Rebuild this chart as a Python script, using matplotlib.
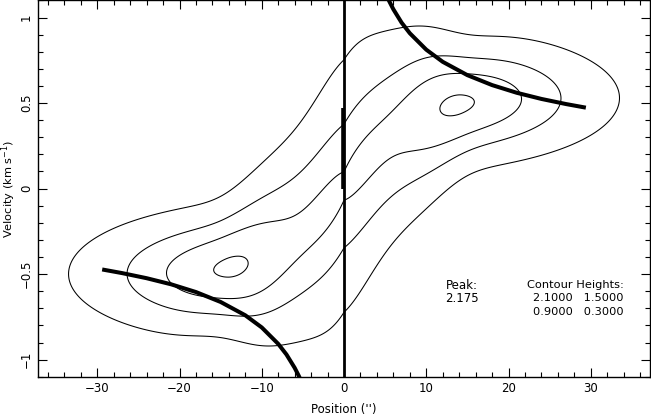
import numpy as np
import matplotlib.pyplot as plt

# contour levels and peak, as printed on the diagram
levels = [0.3, 0.9, 1.5, 2.1]
peak = 2.175

# ridge description (position in arcsec, velocity in km/s)
v_sys = 0.015        # centre of symmetry
ridge_vel = 0.515    # plateau velocity of the ridge
ridge_scale = 8.5    # turnover scale of the S-shaped ridge
peak_pos = 13.9      # position of the two emission peaks
peak_amp = 2.17
fall_out = 9.13      # fall-off of the ridge brightness outside the peaks
fall_in = 7.0        # fall-off inside the peaks
core_amp = 1.3       # extra emission near the centre
core_size = 4.5
width_out = 0.2      # velocity width of the ridge at the peaks
width_core = 0.33    # velocity width at the centre
skew_max = 0.09

# Keplerian curves
kep_pos = [5.0, 5.5, 6.0, 7.0, 8.0, 10.0, 12.0, 15.0, 18.0, 21.0, 24.0, 27.0, 29.4]
kep_vel = [1.148, 1.095, 1.048, 0.970, 0.908, 0.812, 0.741, 0.663, 0.605, 0.560, 0.524, 0.494, 0.473]

# short thick bar on the zero-position line
bar_vel = [0.0, 0.47]

# PV field built slice by slice along position
x = np.linspace(-37.2, 37.2, 500)
v = np.linspace(-1.1, 1.1, 400)
X, V = np.meshgrid(x, v)

ridge = v_sys + ridge_vel * np.tanh(X / ridge_scale)
d = np.abs(X) - peak_pos
amp = np.where(d > 0,
               peak_amp * np.exp(-0.5 * (np.abs(d) / fall_out) ** 1.8),
               peak_amp * np.exp(-0.5 * (d / fall_in) ** 2))
amp = amp + core_amp * np.exp(-0.5 * (X / core_size) ** 2)
sig = width_out + (width_core - width_out) * np.exp(-(X / 12.3) ** 4)
pw = 2.0 - 0.5 * np.exp(-0.5 * (X / 4.5) ** 2)
skew = skew_max * (X / 10.0) ** 2 * np.exp(1 - (X / 10.0) ** 2)
dv = V - ridge
away = np.sign(dv) == np.sign(X)
sig = np.where(away, sig * (1 - skew), sig)
field = amp * np.exp(-0.5 * (np.abs(dv) / sig) ** pw)
field = field / field.max() * peak

fig = plt.figure(figsize=(6.51, 4.17), dpi=100)
ax = fig.add_axes([0.0584, 0.0966, 0.9401, 0.9024])

ax.contour(x, v, field, levels=levels, colors='black', linewidths=0.75)

kp = np.array(kep_pos)
kv = np.array(kep_vel)
ax.plot(kp, kv, color='black', lw=2.9, solid_capstyle='butt')
ax.plot(-kp, -kv, color='black', lw=2.9, solid_capstyle='butt')

ax.axvline(0, color='black', lw=2.0)
ax.plot([-0.12, -0.12], bar_vel, color='black', lw=2.6, solid_capstyle='butt')

ax.set_xlim(-37.2, 37.2)
ax.set_ylim(-1.1, 1.1)
ax.set_xticks([-30, -20, -10, 0, 10, 20, 30])
ax.set_xticklabels(['\u221230', '\u221220', '\u221210', '0', '10', '20', '30'])
ax.set_yticks([-1, -0.5, 0, 0.5, 1])
ax.set_yticklabels(['\u22121', '\u22120.5', '0', '0.5', '1'], rotation=90, va='center')
ax.set_xticks(np.arange(-36, 37, 2), minor=True)
ax.set_yticks(np.arange(-1.1, 1.11, 0.1), minor=True)
ax.tick_params(which='both', direction='in', top=True, right=True, labelsize=8.5, width=0.8)
ax.tick_params(which='major', length=6.5)
ax.tick_params(which='minor', length=3.5)
for sp in ax.spines.values():
    sp.set_linewidth(1.0)

ax.set_xlabel('Position (\'\')', fontsize=8.5, labelpad=6)
ax.set_ylabel('Velocity (km s$^{-1}$)', fontsize=8.2)
ax.yaxis.set_label_coords(-0.033, 0.5)

ax.text(14.3, -0.565, 'Peak:', ha='center', va='center', fontsize=8.5)
ax.text(14.3, -0.642, f'{peak:.3f}', ha='center', va='center', fontsize=8.5)
ax.text(34.0, -0.565, 'Contour Heights:', ha='right', va='center', fontsize=8.2)
ax.text(34.0, -0.642, f'{levels[3]:.4f}   {levels[2]:.4f}', ha='right', va='center', fontsize=8.2)
ax.text(34.0, -0.72, f'{levels[1]:.4f}   {levels[0]:.4f}', ha='right', va='center', fontsize=8.2)

fig.savefig('out.png', dpi=100)
